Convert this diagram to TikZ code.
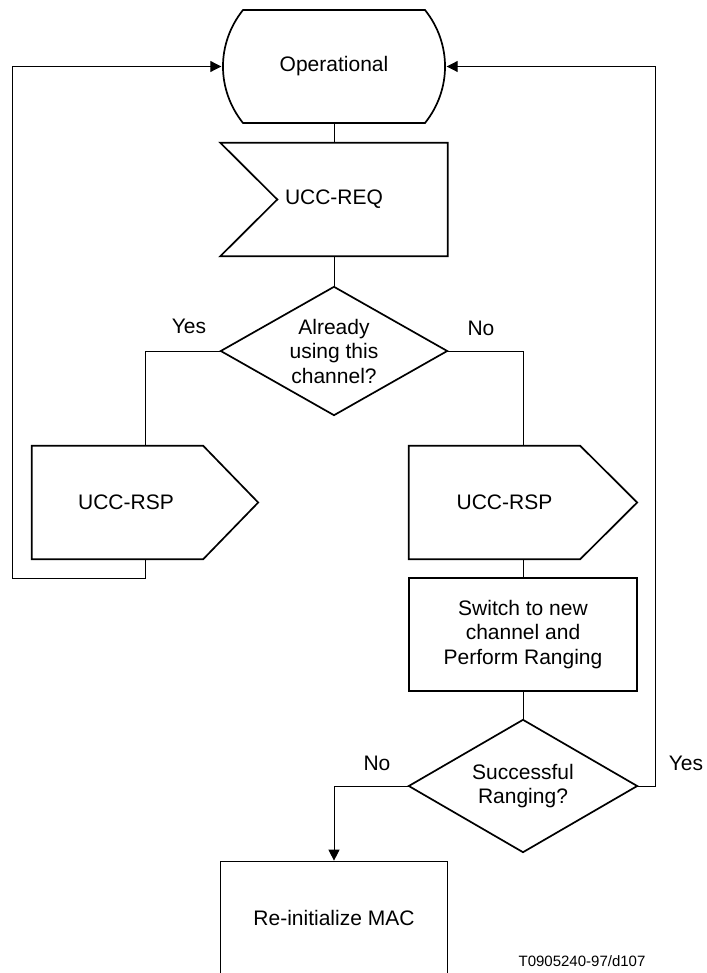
\documentclass[tikz,border=0pt]{standalone}
\usepackage{fontspec}
\setmainfont{Liberation Sans}
\usetikzlibrary{arrows.meta,calc}
\begin{document}
\begin{tikzpicture}[x=1pt,y=-1pt,
  shapeline/.style={line width=1.7pt, line join=miter},
  conn/.style={line width=1pt},
  arr/.style={conn,-{Triangle[length=11pt,width=11pt]}},
  blk/.style={minimum width=#1, minimum height=113pt, inner sep=0pt, align=center, font=\fontsize{21}{24.5}\selectfont},
  txt/.style={inner sep=0pt, align=center, font=\fontsize{21}{24.5}\selectfont},
  lbl/.style={inner sep=0pt, font=\fontsize{21}{24.5}\selectfont},
  note/.style={inner sep=0pt, font=\fontsize{15}{18}\selectfont}]
\useasboundingbox (0,0) rectangle (706,973);
\clip (0,0) rectangle (706,973);

% Operational (state)
\node[blk=225pt] (op) at (334,66.5) {Operational};
\draw[shapeline] (243,10) -- (425,10) .. controls (451.7,43.5) and (451.7,89.5) .. (425,123)
  -- (243,123) .. controls (216.3,89.5) and (216.3,43.5) .. (243,10) -- cycle;

% UCC-REQ (input)
\node[blk=227pt] (req) at (334,199.5) {UCC-REQ};
\draw[shapeline] (req.north west) -- (req.north east) -- (req.south east) -- (req.south west)
  -- ($(req.west)+(57,0)$) -- cycle;

% decision 1
\node[blk=226pt, minimum height=128pt] (d1) at (334,351) {Already\\using this\\channel?};
\draw[shapeline] (d1.north) -- (d1.east) -- (d1.south) -- (d1.west) -- cycle;

% UCC-RSP left (output)
\node[blk=226pt] (rspL) at (145,502.5) {};
\draw[shapeline] (rspL.north west) -- ($(rspL.north east)+(-55,0)$) -- (rspL.east)
  -- ($(rspL.south east)+(-55,0)$) -- (rspL.south west) -- cycle;
\node[txt] (rspLt) at ($(rspL.center)+(-19,0)$) {UCC-RSP};

% UCC-RSP right (output)
\node[blk=228pt] (rspR) at (523,502.5) {};
\draw[shapeline] (rspR.north west) -- ($(rspR.north east)+(-57,0)$) -- (rspR.east)
  -- ($(rspR.south east)+(-57,0)$) -- (rspR.south west) -- cycle;
\node[txt] (rspRt) at ($(rspR.center)+(-18.5,0)$) {UCC-RSP};

% task box
\node[blk=228pt, draw, shapeline] (box) at (523,634.5) {Switch to new\\channel and\\Perform Ranging};

% decision 2
\node[blk=228pt, minimum height=132pt] (d2) at (523,786) {Successful\\Ranging?};
\draw[shapeline] (d2.north) -- (d2.east) -- (d2.south) -- (d2.west) -- cycle;

% Re-initialize MAC
\node[blk=227pt, draw, shapeline] (mac) at (334,918) {Re-initialize MAC};

% connectors
\coordinate (lb) at (12,578);
\coordinate (rb) at (655,786);
\draw[conn] (op.south) -- (req.north);
\draw[conn] (req.south) -- (d1.north);
\draw[conn] (d1.west) -| (rspL.north);
\draw[conn] (d1.east) -| (rspR.north);
\draw[conn] (rspR.south) -- (box.north);
\draw[conn] (box.south) -- (d2.north);
\draw[arr] (rspL.south) |- (lb) |- (op.west);
\draw[arr] (d2.east) -- (rb) |- (op.east);
\draw[arr] (d2.west) -| (mac.north);

% labels
\node[lbl] (yes1) at (189,326) {Yes};
\node[lbl] (no1) at (481,328) {No};
\node[lbl] (no2) at (377,763) {No};
\node[lbl] (yes2) at (686,763) {Yes};
\node[note] (fig) at (582,961) {T0905240-97/d107};
\end{tikzpicture}
\end{document}
